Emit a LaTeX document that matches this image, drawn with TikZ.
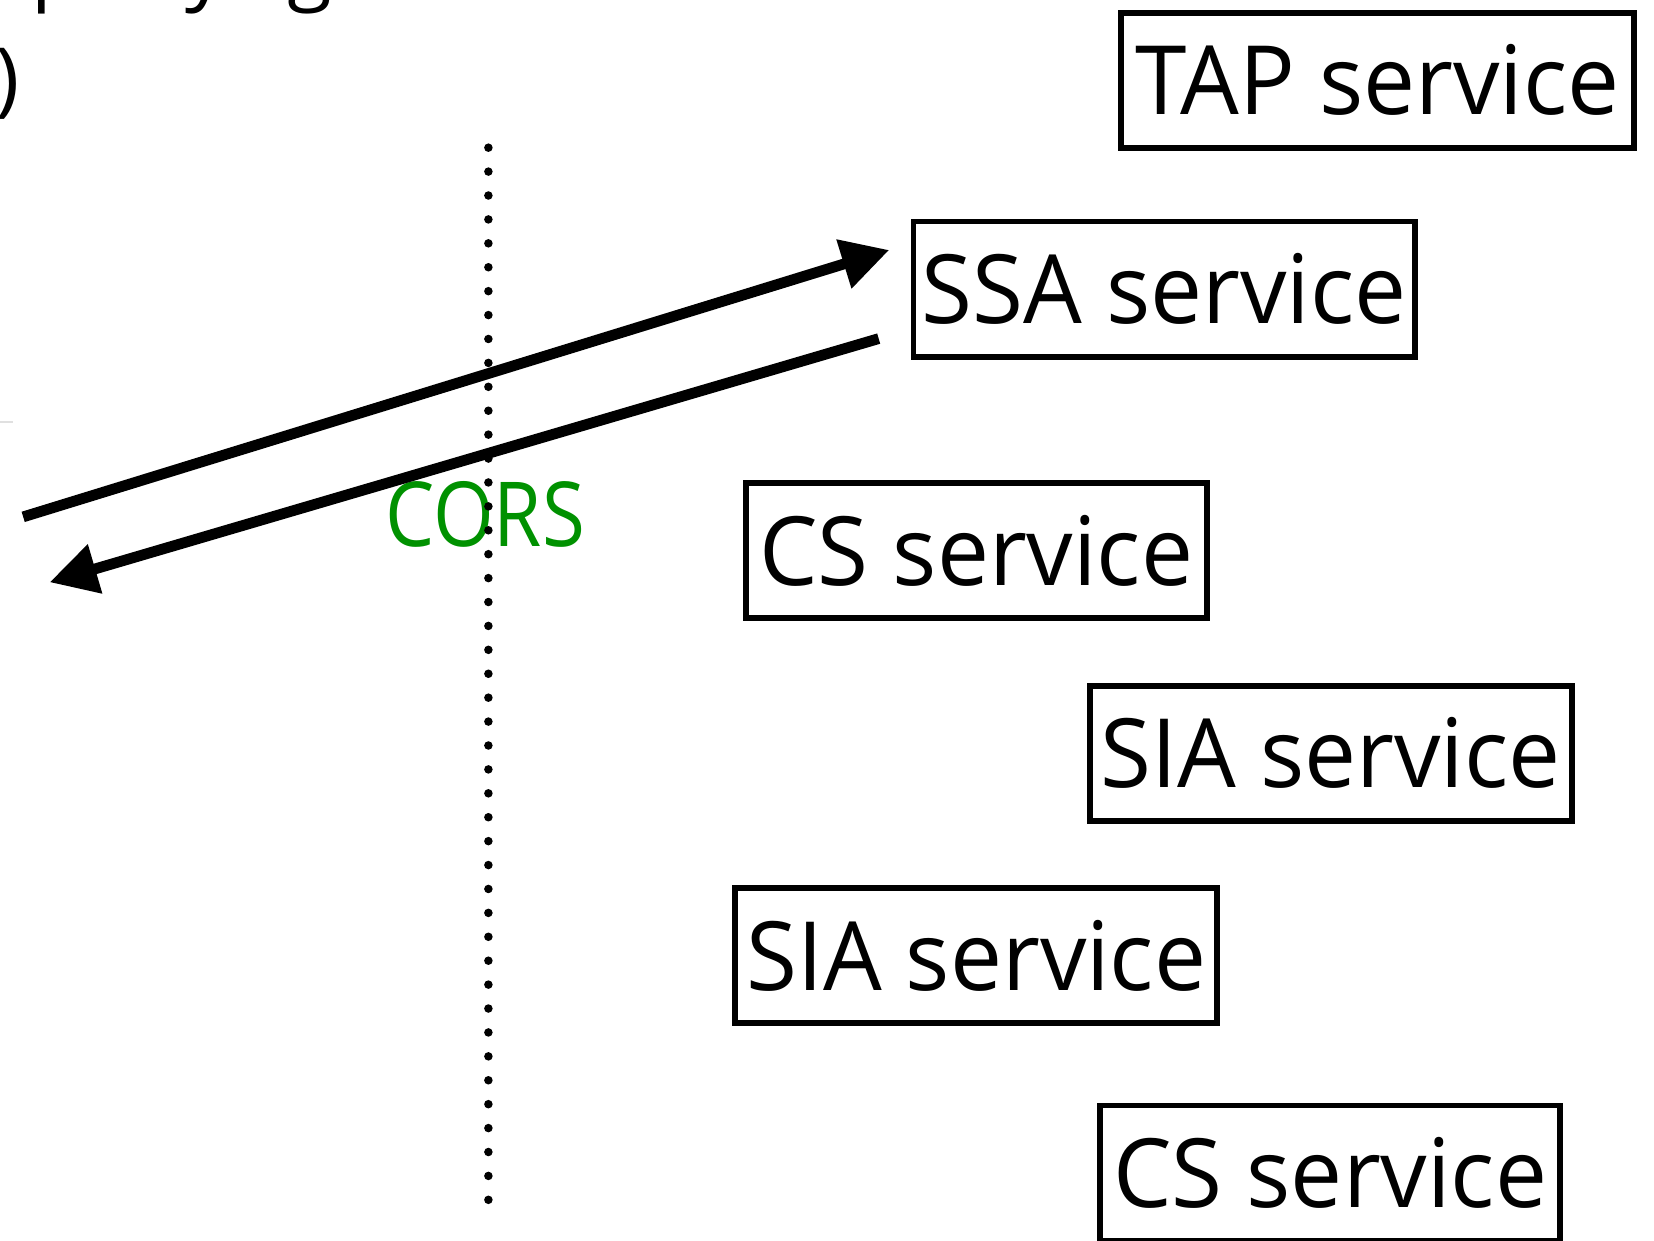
\documentclass[tikz,border=0pt]{standalone}
\usepackage{graphicx}
\usepackage{fontspec}
\setmainfont{Open Sans}
\usetikzlibrary{arrows.meta}
\definecolor{corsgreen}{RGB}{0,145,0}
\newcommand{\svctext}[1]{\scalebox{0.97}[1]{#1}}
\begin{document}
\begin{tikzpicture}[x=0.1mm,y=-0.1mm,
  svc/.style={draw, line width=1.6pt, minimum height=12.8mm, inner sep=0pt,
    font=\fontsize{25.8pt}{30pt}\selectfont},
  arr/.style={line width=2.9pt, -{Triangle[length=4.5mm,width=4.6mm]}},
  dotline/.style={line width=2.3pt, line cap=round, dash pattern=on 0pt off 6.45pt},
  frag/.style={font=\fontsize{22pt}{26pt}\selectfont, inner sep=0pt, anchor=base west},
  corslabel/.style={text=corsgreen, anchor=base, inner sep=0pt,
    font=\fontsize{24.2pt}{28pt}\selectfont}]
\path[use as bounding box] (0,0) rectangle (1568,1176);
\clip (0,0) rectangle (1568,1176);

% fragments of text cut off by the frame
\node[frag] (fp) at (29,-5) {p};
\node[frag] (fy) at (175,-5) {y};
\node[frag] (fg) at (272,-5) {g};
\node[frag] (fparen) at (-5,101) {)};
\coordinate (gl1) at (0,400);
\coordinate (gl2) at (12,400);
\draw[black!12, line width=0.6pt] (gl1) -- (gl2);

% service boxes
\node[svc, minimum width=48.6mm] (tap)  at (1306,76)    {\svctext{TAP service}};
\node[svc, minimum width=47.5mm] (ssa)  at (1103.5,274) {\svctext{SSA service}};
\node[svc, minimum width=43.7mm] (cs1)  at (925.5,522)  {\svctext{CS service}};
\node[svc, minimum width=45.7mm] (sia1) at (1261.5,714) {\svctext{SIA service}};
\node[svc, minimum width=45.7mm] (sia2) at (925.5,906)  {\svctext{SIA service}};
\node[svc, minimum width=43.6mm] (cs2)  at (1261,1112)  {\svctext{CS service}};

% CORS label
\node[corslabel] (cors) at (460,518) {\scalebox{0.87}[1]{CORS}};

% dotted boundary
\coordinate (dtop) at (463,140);
\coordinate (dbot) at (463,1145);
\draw[dotline] (dtop) -- (dbot);

% request / response arrows
\coordinate (a1s) at (22,490);
\coordinate (a1e) at (843,237);
\coordinate (a2s) at (833,321);
\coordinate (a2e) at (47,552);
\draw[arr] (a1s) -- (a1e);
\draw[arr] (a2s) -- (a2e);
\end{tikzpicture}
\end{document}
